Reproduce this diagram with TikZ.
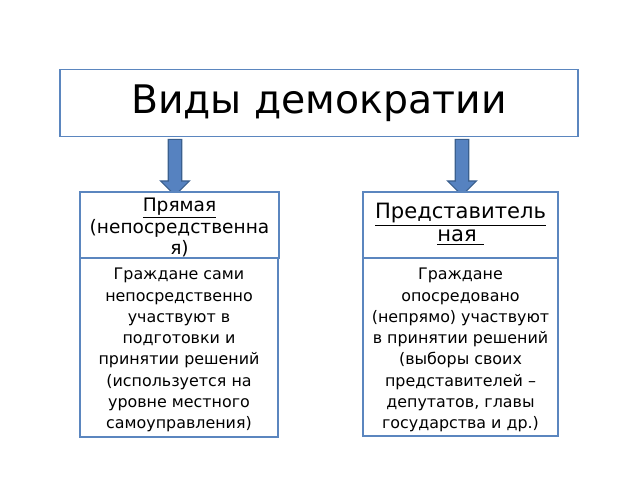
\documentclass[tikz,border=0pt]{standalone}
\usepackage{fontspec}
\setmainfont{DejaVu Sans}
\usetikzlibrary{shapes.arrows}
\definecolor{boxline}{HTML}{5B86BF}
\definecolor{arrfill}{HTML}{5682C0}
\definecolor{arrline}{HTML}{3A5F8E}
\tikzset{
  frame/.style={draw=boxline, line width=1.4pt, fill=white, inner sep=2pt},
  bodytext/.style={anchor=north, align=center, inner sep=0pt, font=\fontsize{11.3}{15.1}\selectfont},
  downarrow/.style={single arrow, draw=arrline, fill=arrfill, line width=0.8pt,
    shape border rotate=270, minimum height=1.4cm, minimum width=0.72cm,
    single arrow head extend=0.08cm, inner sep=1.6pt}
}
\begin{document}
\begin{tikzpicture}[x=0.025cm,y=-0.025cm]
  \useasboundingbox (0,0) rectangle (640,480);
  % title
  \node[frame, minimum width=518*0.025cm, minimum height=67*0.025cm] (title) at (319,103)
    {\fontsize{28}{32}\selectfont Виды демократии};
  % arrows
  \node[downarrow] (arrL) at (175,164) {};
  \node[downarrow] (arrR) at (462,164) {};
  % left column
  \node[frame, minimum width=199*0.025cm, minimum height=66*0.025cm] (hdL) at (179.5,225) {};
  \node[bodytext, font=\fontsize{13.2}{14.5}\selectfont] (hdLtext) at (179.5,198)
    {\underline{Прямая}\\(непосредственна\\я)};
  \node[frame, minimum width=198*0.025cm, minimum height=179*0.025cm] (bodyL) at (179,347.5) {};
  \node[bodytext] (bodyLtext) at (179,268)
    {Граждане сами\\непосредственно\\участвуют в\\подготовки и\\принятии решений\\(используется на\\уровне местного\\самоуправления)};
  % right column
  \node[frame, minimum width=195*0.025cm, minimum height=66*0.025cm] (hdR) at (460.5,225) {};
  \node[bodytext, font=\fontsize{15}{16.5}\selectfont] (hdRtext) at (460.5,203)
    {\underline{Представитель}\\\underline{ная }};
  \node[frame, minimum width=195*0.025cm, minimum height=178*0.025cm] (bodyR) at (460.5,347) {};
  \node[bodytext] (bodyRtext) at (460.5,268)
    {Граждане\\опосредовано\\(непрямо) участвуют\\в принятии решений\\(выборы своих\\представителей –\\депутатов, главы\\государства и др.)};
\end{tikzpicture}
\end{document}
